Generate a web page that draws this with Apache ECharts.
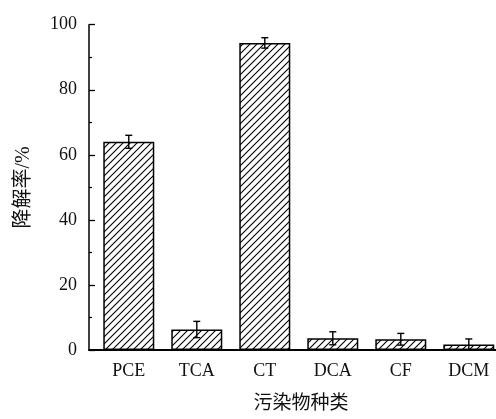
<!DOCTYPE html>
<html>
<head>
<meta charset="utf-8">
<script src="https://cdn.jsdelivr.net/npm/echarts@6/dist/echarts.min.js"></script>
<style>
  html, body { margin: 0; padding: 0; background: #fff; }
  #chart { width: 496px; height: 419px; }
</style>
</head>
<body>
<div id="chart"></div>
<script>
// Degradation rate of each pollutant (%), with error (±)
const categories = ['PCE', 'TCA', 'CT', 'DCA', 'CF', 'DCM'];
const rates = [64.0, 6.3, 94.4, 3.6, 3.3, 1.7];
const errors = [2.0, 2.5, 1.6, 2.0, 1.8, 1.7];
const yTicks = [0, 20, 40, 60, 80, 100];

const serif = '"Liberation Serif", "Times New Roman", "Noto Sans CJK SC", serif';

// Diagonal hatch fill for the bars
function makeHatch() {
  const s = 7;
  const c = document.createElement('canvas');
  c.width = s; c.height = s;
  const g = c.getContext('2d');
  g.fillStyle = '#fff';
  g.fillRect(0, 0, s, s);
  g.strokeStyle = '#000';
  g.lineWidth = 1.1;
  g.beginPath();
  g.moveTo(-1, s + 1); g.lineTo(s + 1, -1);
  g.moveTo(-1, 1); g.lineTo(1, -1);
  g.moveTo(s - 1, s + 1); g.lineTo(s + 1, s - 1);
  g.stroke();
  return c;
}

const barData = rates.map((v, i) => [i, v]);
const errData = rates.map((v, i) => [i, v - errors[i], v + errors[i]]);

const chart = echarts.init(document.getElementById('chart'), null, { renderer: 'canvas' });
chart.setOption({
  animation: false,
  backgroundColor: '#fff',
  grid: { left: 89, right: 0, top: 24.7, bottom: 63.3, containLabel: false },
  xAxis: {
    type: 'value',
    min: -0.585,
    max: 5.4,
    name: '污染物种类',
    nameLocation: 'middle',
    nameGap: 45,
    nameTextStyle: { fontFamily: serif, fontSize: 19, color: '#111', padding: [0, 0, 0, 17] },
    axisLine: { show: true, onZero: false, lineStyle: { color: '#000', width: 2 } },
    axisTick: { show: false },
    splitLine: { show: false },
    axisLabel: {
      customValues: [0, 1, 2, 3, 4, 5],
      formatter: v => categories[Math.round(v)] || '',
      fontFamily: serif,
      fontSize: 18,
      color: '#111',
      margin: 12
    }
  },
  yAxis: {
    type: 'value',
    min: 0,
    max: 100,
    interval: 20,
    name: '降解率/%',
    nameLocation: 'middle',
    nameGap: 55,
    nameRotate: 90,
    nameTextStyle: { fontFamily: serif, fontSize: 20, color: '#111' },
    axisLine: { show: true, onZero: false, lineStyle: { color: '#000', width: 1.5 } },
    axisTick: { show: true, inside: true, length: 6, lineStyle: { color: '#000', width: 1.3 } },
    minorTick: { show: true, splitNumber: 2, length: 3, lineStyle: { color: '#000', width: 1.2 } },
    splitLine: { show: false },
    axisLabel: {
      customValues: yTicks,
      fontFamily: serif,
      fontSize: 18,
      color: '#111',
      margin: 12
    }
  },
  series: [
    {
      type: 'bar',
      data: barData,
      barWidth: 51,
      itemStyle: {
        color: { image: makeHatch(), repeat: 'repeat' },
        borderColor: '#000',
        borderWidth: 1.5
      },
      z: 2
    },
    {
      type: 'custom',
      data: errData,
      z: 3,
      renderItem: function (params, api) {
        const x = api.value(0);
        const lo = api.coord([x, api.value(1)]);
        const hi = api.coord([x, api.value(2)]);
        const cap = 3.5;
        const style = { stroke: '#000', lineWidth: 1.4 };
        return {
          type: 'group',
          children: [
            { type: 'line', shape: { x1: lo[0], y1: lo[1], x2: hi[0], y2: hi[1] }, style },
            { type: 'line', shape: { x1: hi[0] - cap, y1: hi[1], x2: hi[0] + cap, y2: hi[1] }, style },
            { type: 'line', shape: { x1: lo[0] - cap, y1: lo[1], x2: lo[0] + cap, y2: lo[1] }, style }
          ]
        };
      }
    }
  ]
});
</script>
</body>
</html>
